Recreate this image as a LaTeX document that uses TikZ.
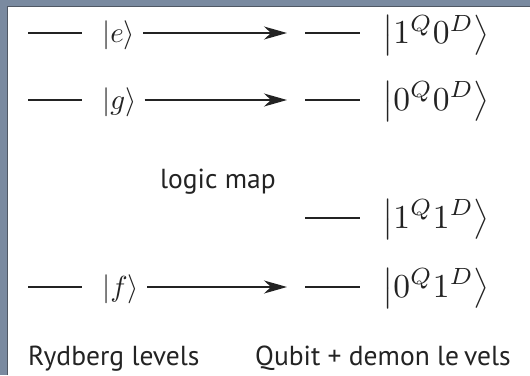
\documentclass[tikz,border=0pt]{standalone}
\usepackage{fontspec}
\setsansfont{PT Sans}
\usetikzlibrary{arrows.meta}
\definecolor{framegray}{RGB}{122,138,160}
\definecolor{framedark}{RGB}{80,88,100}
\definecolor{txt}{RGB}{35,35,35}
\newcommand{\ktl}[1]{\scalebox{2.9}{\fontsize{10}{12}\selectfont$#1$}}
\newcommand{\ktr}[1]{\scalebox{3.35}{\fontsize{10}{12}\selectfont$#1$}}
\begin{document}
\begin{tikzpicture}[x=1pt,y=-1pt,
  lvl/.style={line width=1.4pt, draw=txt},
  ket/.style={inner sep=0pt, text=txt},
  lbl/.style={inner sep=0pt, text=txt, font=\sffamily\fontsize{27.5}{32}\selectfont},
  mapto/.style={line width=1.4pt, draw=txt, shorten <=8pt, -{Stealth[length=23pt,width=13pt,inset=7pt]}}]
\useasboundingbox (0,0) rectangle (530,375);
\fill[white] (0,0) rectangle (530,375);
\fill[framegray] (0,0) rectangle (530,6.5);
\fill[framegray] (0,0) rectangle (7.5,375);
\draw[framedark, line width=1pt] (7.5,375) -- (7.5,6.5) -- (530,6.5);

% left (Rydberg) levels
\coordinate (eA) at (28,33);  \coordinate (eB) at (82,33);
\coordinate (gA) at (28,100); \coordinate (gB) at (82,100);
\coordinate (fA) at (28,287); \coordinate (fB) at (82,287);
\draw[lvl] (eA) -- (eB);
\draw[lvl] (gA) -- (gB);
\draw[lvl] (fA) -- (fB);
\node[ket, anchor=west] (e) at (102,35) {\ktl{|e\rangle}};
\node[ket, anchor=west] (g) at (102,102) {\ktl{|g\rangle}};
\node[ket, anchor=west] (f) at (102,289) {\ktl{|f\rangle}};

% right (qubit + demon) levels
\coordinate (aA) at (305,33);  \coordinate (aB) at (360,33);
\coordinate (bA) at (305,100); \coordinate (bB) at (360,100);
\coordinate (cA) at (305,218); \coordinate (cB) at (360,218);
\coordinate (dA) at (305,287); \coordinate (dB) at (360,287);
\draw[lvl] (aA) -- (aB);
\draw[lvl] (bA) -- (bB);
\draw[lvl] (cA) -- (cB);
\draw[lvl] (dA) -- (dB);
\node[ket, anchor=base west] (q10) at (382,43.5)  {\ktr{\left|1^Q0^D\right\rangle}};
\node[ket, anchor=base west] (q00) at (382,110) {\ktr{\left|0^Q0^D\right\rangle}};
\node[ket, anchor=base west] (q11) at (382,228) {\ktr{\left|1^Q1^D\right\rangle}};
\node[ket, anchor=base west] (q01) at (382,297) {\ktr{\left|0^Q1^D\right\rangle}};

% logic map arrows
\coordinate (eT) at (287,33);
\coordinate (gT) at (287,100);
\coordinate (fT) at (287,287);
\draw[mapto] (e.east |- eT) -- (eT);
\draw[mapto] (g.east |- gT) -- (gT);
\draw[mapto] (f.east |- fT) -- (fT);

% labels
\node[lbl, anchor=base west] (map) at (160,188) {logic map};
\node[lbl, anchor=base west] (ryd) at (28,365) {Rydberg levels};
\node[lbl, anchor=base west] (qd) at (255,365) {Qubit + demon le\kern0.18em vels};
\end{tikzpicture}
\end{document}
